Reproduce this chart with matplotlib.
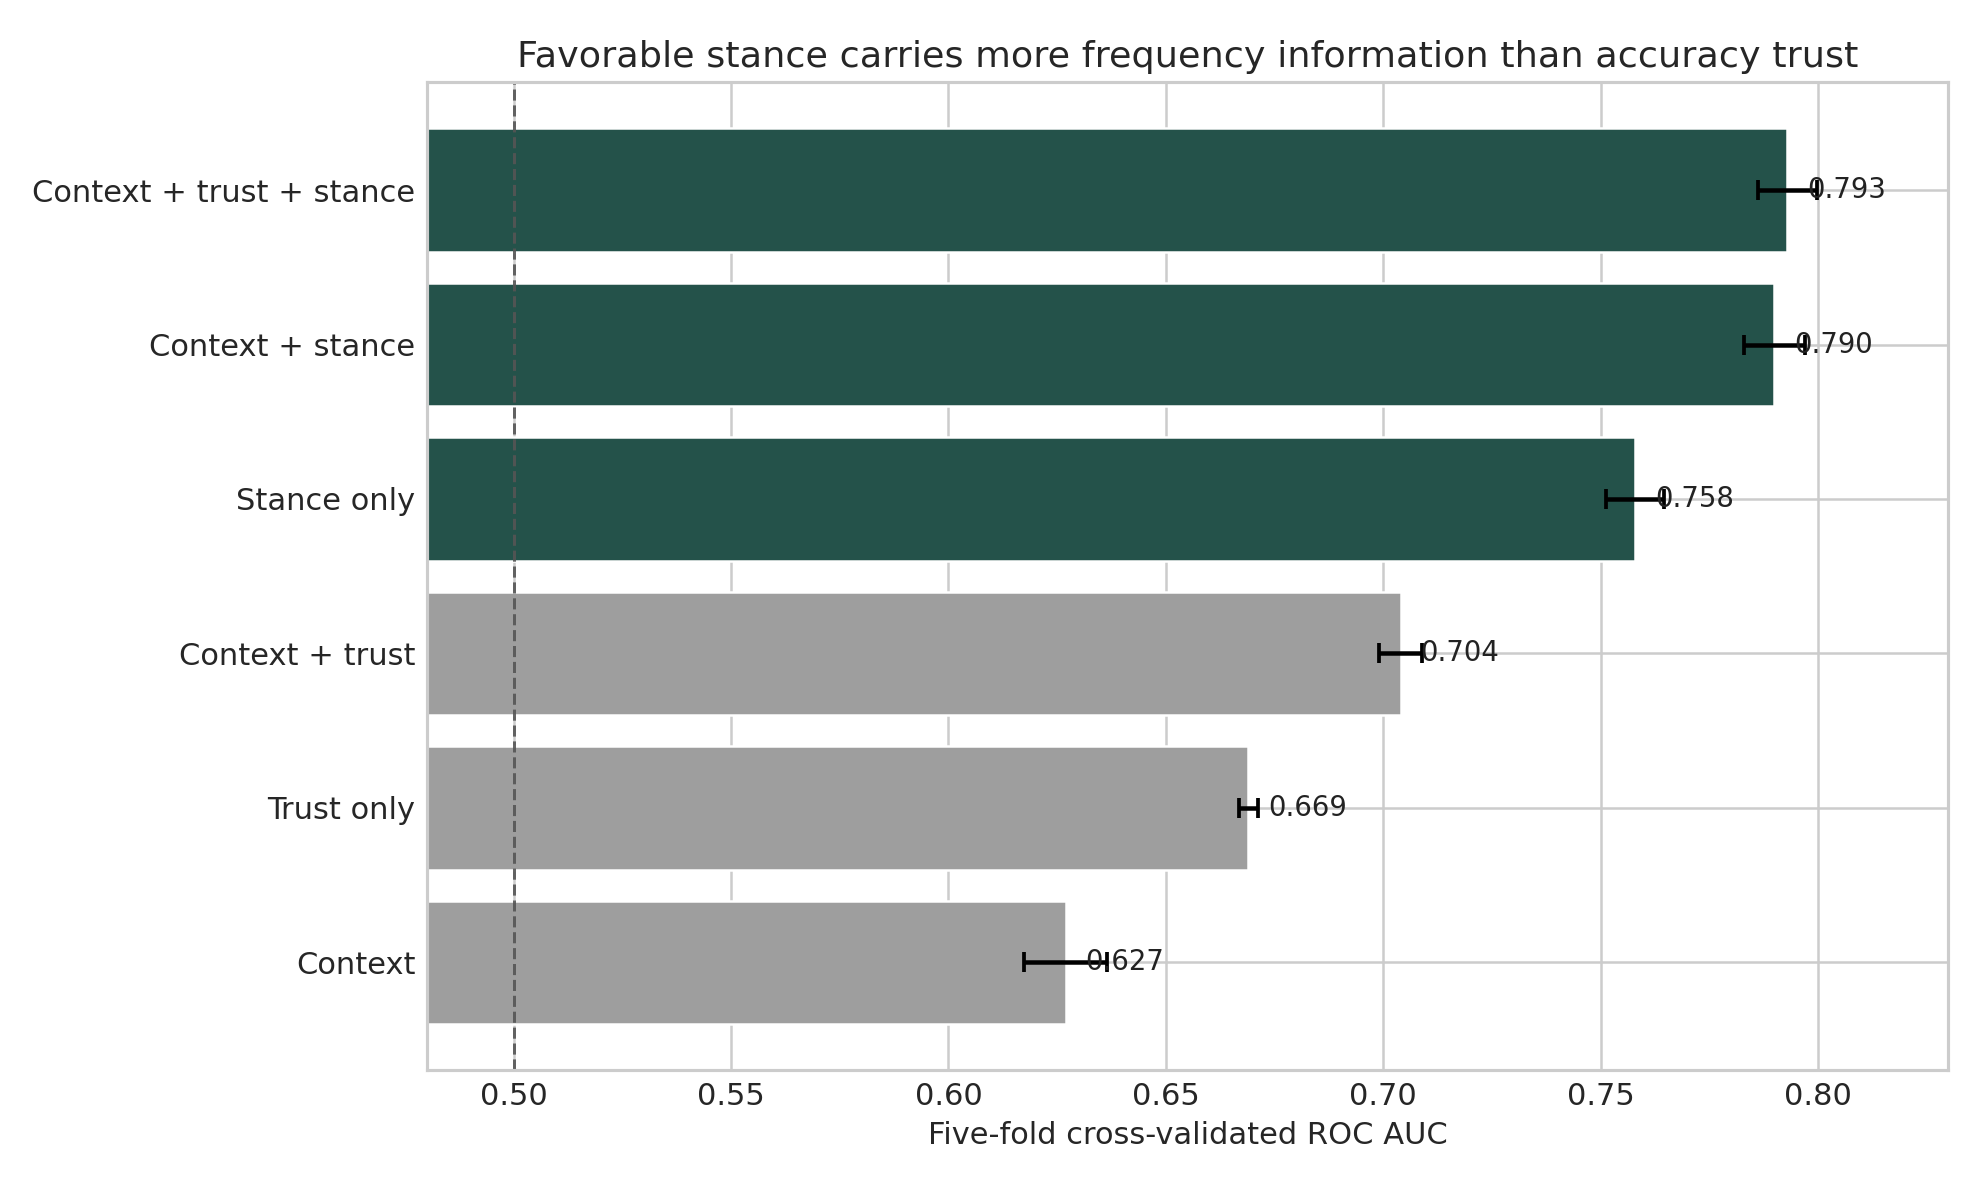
import matplotlib
matplotlib.use("Agg")
import matplotlib.pyplot as plt
import seaborn as sns

sns.set_theme(style="whitegrid")
plt.rcParams['font.family'] = ['DejaVu Sans']

categories = ["Context", "Trust only", "Context + trust", "Stance only",
              "Context + stance", "Context + trust + stance"]
auc_mean = [0.627, 0.669, 0.704, 0.758, 0.790, 0.793]
auc_err = [0.0095, 0.0022, 0.005, 0.0067, 0.007, 0.0067]
has_stance = [False, False, False, True, True, True]

green = "#24524a"
gray = "#9e9e9e"
colors = [green if s else gray for s in has_stance]

fig, ax = plt.subplots(figsize=(11, 6.6), dpi=180)
fig.subplots_adjust(left=0.2155, right=0.984, top=0.931, bottom=0.099)

y = list(range(len(categories)))
ax.barh(y, auc_mean, height=0.8, color=colors, zorder=2)
ax.errorbar(auc_mean, y, xerr=auc_err, fmt="none", ecolor="black",
            elinewidth=1.8, capsize=4, capthick=1.5, zorder=3)
for yi, v in zip(y, auc_mean):
    ax.text(v + 0.0045, yi, f"{v:.3f}", va="center", ha="left",
            fontsize=11, color="#222222", zorder=4)

ax.axvline(0.5, color="#555555", linestyle="--", linewidth=1.2, alpha=0.9, zorder=2.5)
ax.set_yticks(y)
ax.set_yticklabels(categories, fontsize=12.2)
ax.set_xlim(0.48, 0.83)
ax.set_ylim(-0.7, 5.7)
ax.set_xticks([0.50, 0.55, 0.60, 0.65, 0.70, 0.75, 0.80])
ax.set_xticklabels(["0.50", "0.55", "0.60", "0.65", "0.70", "0.75", "0.80"], fontsize=12.2)
ax.tick_params(axis="both", length=0, pad=4.5)
ax.set_xlabel("Five-fold cross-validated ROC AUC", fontsize=12.2)
ax.set_title("Favorable stance carries more frequency information than accuracy trust", fontsize=14.6)
ax.set_axisbelow(True)

fig.savefig("out.png", dpi=180)
